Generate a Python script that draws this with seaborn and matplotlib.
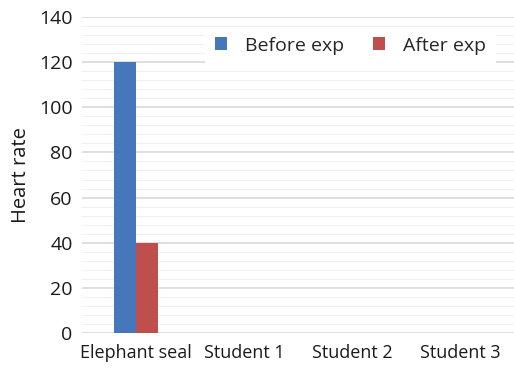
import matplotlib
matplotlib.use("Agg")
import matplotlib.pyplot as plt
import seaborn as sns
import pandas as pd
from matplotlib.ticker import MultipleLocator

categories = ["Elephant seal", "Student 1", "Student 2", "Student 3"]
before_exp = [120, 0, 0, 0]
after_exp = [40, 0, 0, 0]
series_names = ["Before exp", "After exp"]
y_ticks = [0, 20, 40, 60, 80, 100, 120, 140]

df = pd.DataFrame({
    "category": categories * 2,
    "value": before_exp + after_exp,
    "series": [series_names[0]] * len(categories) + [series_names[1]] * len(categories),
})

sns.set_theme(style="white")
plt.rcParams['font.family'] = ['Open Sans', 'DejaVu Sans']

fig = plt.figure(figsize=(5.14, 3.70), dpi=100)
ax = fig.add_axes([0.16, 0.10, 0.84, 0.854])

sns.barplot(data=df, x="category", y="value", hue="series",
            palette=["#4677BA", "#BE4F4D"], width=0.41, ax=ax,
            saturation=1, linewidth=0, legend=True)

ax.set_ylim(0, 140)
ax.set_yticks(y_ticks)
ax.yaxis.set_minor_locator(MultipleLocator(4))
ax.grid(True, which="major", axis="y", color="#d9d9d9", linewidth=1.2)
ax.grid(True, which="minor", axis="y", color="#f0f0f0", linewidth=0.8)
ax.set_axisbelow(True)
for s in ax.spines.values():
    s.set_visible(False)
ax.tick_params(axis="both", which="both", length=0, labelsize=14, colors="#1a1a1a")
ax.tick_params(axis="x", pad=8, labelsize=13)
ax.tick_params(axis="y", pad=7)
ax.set_xlabel("")
ax.set_ylabel("Heart rate", fontsize=14.5, color="#1a1a1a", labelpad=6)

leg = ax.legend(loc="upper right", bbox_to_anchor=(0.972, 0.987), ncol=2,
                fontsize=14, frameon=True, fancybox=False, edgecolor="white",
                framealpha=1, handlelength=0.65, handleheight=0.65,
                columnspacing=1.45, handletextpad=0.93, borderpad=0.5,
                borderaxespad=0.3)
leg.get_frame().set_linewidth(0)

fig.savefig("out.png", dpi=100, facecolor="white")
